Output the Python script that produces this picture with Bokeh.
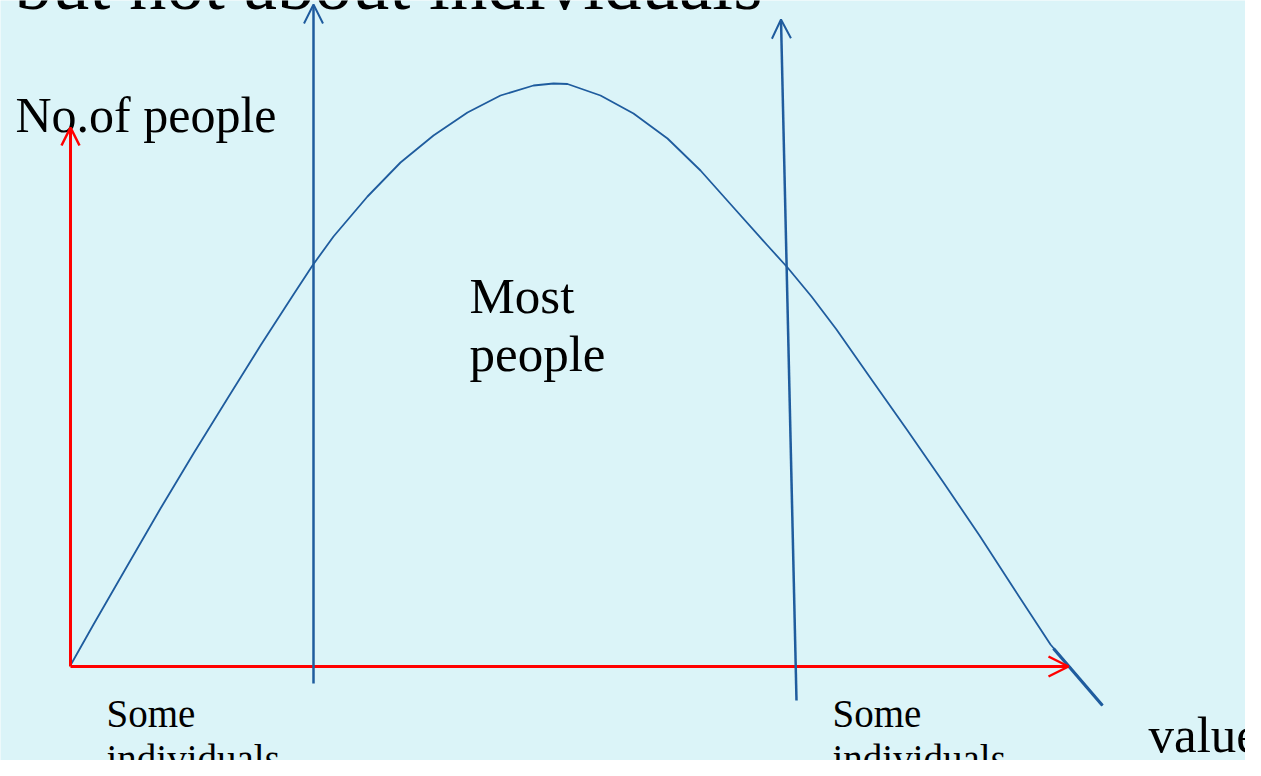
from bokeh.plotting import figure
from bokeh.models import Range1d, Arrow, OpenHead
from bokeh.core.properties import value
from bokeh.embed import file_html
from bokeh.resources import INLINE

# ---- data (diagram units: origin at the red axes' corner) ----
curve_x = [1, 23, 57, 90, 123, 157, 190, 223, 242, 263, 297, 330, 363, 397,
           430, 463, 483, 497, 530, 563, 597, 630, 663, 697, 717, 741, 766,
           801, 837, 873, 909, 944, 980, 1032]
curve_y = [3, 42, 101, 158, 213, 268, 321, 372, 401, 430, 470, 504, 531, 554,
           571, 581, 583, 582.5, 571, 553, 528, 496, 459, 421, 399, 370, 337,
           287, 236, 184, 131, 77, 22, -39]
tail_x = [983, 1032]
tail_y = [18, -39]

title_text = "but not about individuals"
y_label = "No.of people"
x_label = "values"
middle_lines = ["Most", "people"]
side_lines = ["Some", "individuals"]

BG = "#DBF4F8"
BLUE = "#1F5C9E"
RED = "#FF0000"
FONT = value("Liberation Serif")

p = figure(width=1245, height=760,
           x_range=Range1d(-70, 1175), y_range=Range1d(-94, 666),
           output_backend="svg", toolbar_location=None, min_border=0)
p.axis.visible = False
p.grid.visible = False
p.outline_line_color = None
p.background_fill_color = BG
p.border_fill_color = BG

# bell curve
p.line(curve_x, curve_y, line_color=BLUE, line_width=1.8, line_join="round")
p.line(tail_x, tail_y, line_color=BLUE, line_width=3.2)

# red axes
p.add_layout(Arrow(end=OpenHead(size=18, line_color=RED, line_width=2.5),
                   x_start=0, y_start=0, x_end=0, y_end=539,
                   line_color=RED, line_width=3))
p.add_layout(Arrow(end=OpenHead(size=20, line_color=RED, line_width=2.5),
                   x_start=0, y_start=0, x_end=998, y_end=0,
                   line_color=RED, line_width=3))

# blue boundary arrows
p.add_layout(Arrow(end=OpenHead(size=19, line_color=BLUE, line_width=2),
                   x_start=243, y_start=-17, x_end=243, y_end=662,
                   line_color=BLUE, line_width=2.5))
p.add_layout(Arrow(end=OpenHead(size=19, line_color=BLUE, line_width=2),
                   x_start=726, y_start=-34, x_end=710.5, y_end=647,
                   line_color=BLUE, line_width=2.5))

# texts
p.text(x=[-56], y=[683], text=[title_text], text_font=FONT,
       text_font_size="75px", text_baseline="alphabetic", text_color="black")
p.text(x=[-55], y=[552], text=[y_label], text_font=FONT,
       text_font_size="50px", text_baseline="alphabetic", text_color="black")
p.text(x=[399, 399], y=[371, 313], text=middle_lines, text_font=FONT,
       text_font_size="51px", text_baseline="alphabetic", text_color="black")
p.text(x=[36, 36], y=[-47, -92], text=side_lines, text_font=FONT,
       text_font_size="39px", text_baseline="alphabetic", text_color="black")
p.text(x=[762, 762], y=[-47, -92], text=side_lines, text_font=FONT,
       text_font_size="39px", text_baseline="alphabetic", text_color="black")
p.text(x=[1078], y=[-68], text=[x_label], text_font=FONT,
       text_font_size="51px", text_baseline="alphabetic", text_color="black")

open("out.html", "w").write(file_html(p, INLINE))
